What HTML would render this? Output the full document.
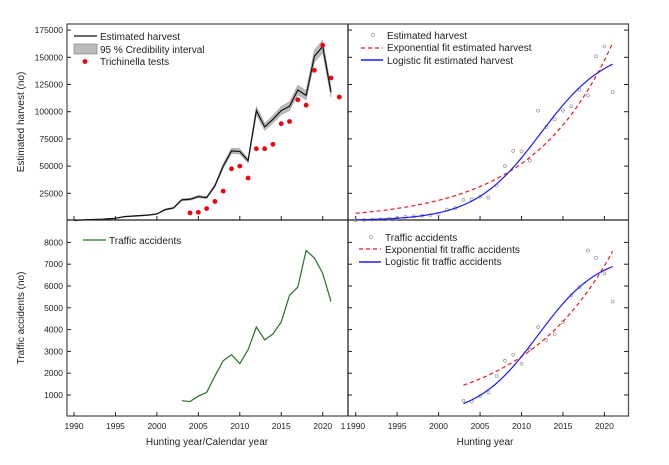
<!DOCTYPE html>
<html><head><meta charset="utf-8"><style>
body{margin:0;background:#fff}
svg{display:block;font-family:"Liberation Sans",Arial,sans-serif}
</style></head><body>
<svg id="c" width="669" height="465" viewBox="0 0 669 465"></svg>
<script>
const years = [1990,1991,1992,1993,1994,1995,1996,1997,1998,1999,2000,2001,2002,2003,2004,2005,2006,2007,2008,2009,2010,2011,2012,2013,2014,2015,2016,2017,2018,2019,2020,2021];
const harvest = [0,500,800,1000,1500,2000,3500,4000,4500,5000,6000,10000,11500,19000,19500,22000,21000,32000,50000,64000,63500,55000,101000,86000,93000,101000,105000,120000,115000,151000,160000,118000];
const trichYears = [2004,2005,2006,2007,2008,2009,2010,2011,2012,2013,2014,2015,2016,2017,2018,2019,2020,2021,2022];
const trich = [7000,7500,11000,17500,27000,47500,50000,39000,66000,66000,70000,89000,91000,111000,106000,138000,161000,131000,113500];
const trafficYears = [2003,2004,2005,2006,2007,2008,2009,2010,2011,2012,2013,2014,2015,2016,2017,2018,2019,2020,2021];
const traffic = [740,700,950,1120,1870,2570,2850,2440,3080,4120,3530,3800,4350,5570,5950,7630,7290,6580,5290];
const harvestExpFit = [6600,0.1035];      // a, r  (a*exp(r*(t-1990)))
const harvestLogFit = [160000,0.25,2012.3]; // K, r, t0
const trafficExpFit = [1450,0.092];       // a, r  (t-2003)
const trafficLogFit = [7500,0.27,2012];
const xTicks = [1990,1995,2000,2005,2010,2015,2020];
const yTicksH = [25000,50000,75000,100000,125000,150000,175000];
const yTicksT = [1000,2000,3000,4000,5000,6000,7000,8000];

const NS="http://www.w3.org/2000/svg", svg=document.getElementById('c');
function el(t,a,p){const e=document.createElementNS(NS,t);for(const k in a)e.setAttribute(k,a[k]);(p||svg).appendChild(e);return e;}
function txt(x,y,s,a,p){const e=el('text',Object.assign({x:x,y:y,'font-size':9,fill:'#222'},a||{}),p);e.textContent=s;return e;}
const yr=8.29;
const xL=t=>74+(t-1990)*yr, xR=t=>355.7+(t-1990)*yr;
const yH=v=>220.5-v/25000*27.2, yT=v=>416.8-v/1000*21.8;

el('rect',{x:67,y:24,width:561.5,height:392,fill:'none',stroke:'#555','stroke-width':1.3,});
el('line',{x1:348,y1:24,x2:348,y2:416,stroke:'#222','stroke-width':1.3,});
el('line',{x1:67,y1:220,x2:628.5,y2:220,stroke:'#222','stroke-width':1.3,});

const gt=el('g',{stroke:'#222','stroke-width':1});
yTicksH.forEach(v=>{el('line',{x1:67,y1:yH(v),x2:71,y2:yH(v)},gt);el('line',{x1:348,y1:yH(v),x2:352,y2:yH(v)},gt);el('line',{x1:624,y1:yH(v),x2:628.5,y2:yH(v)},gt);
 txt(63,yH(v)+3,v,{'text-anchor':'end','font-size':8.5,});});
yTicksT.forEach(v=>{el('line',{x1:67,y1:yT(v),x2:71,y2:yT(v)},gt);el('line',{x1:348,y1:yT(v),x2:352,y2:yT(v)},gt);el('line',{x1:624,y1:yT(v),x2:628.5,y2:yT(v)},gt);
 txt(63,yT(v)+3,v,{'text-anchor':'end','font-size':8.5,});});
xTicks.concat([2025]).forEach(t=>{
 [xL(t),xR(t)].forEach((x,i)=>{ if(i==0&&t==2025)return; if(x>629)return;
  el('line',{x1:x,y1:416,x2:x,y2:412},gt); el('line',{x1:x,y1:220,x2:x,y2:216},gt);
  if(t<2025) txt(x,429,t,{'text-anchor':'middle','font-size':8.5,});});
});
txt(343,429,'1',{'text-anchor':'middle','font-size':8.5,});
txt(207,445,'Hunting year/Calendar year',{'text-anchor':'middle','font-size':10,});
txt(485,445,'Hunting year',{'text-anchor':'middle','font-size':10,});
txt(0,0,'Estimated harvest (no)',{'text-anchor':'middle','font-size':10,transform:'translate(24,122) rotate(-90)',});
txt(0,0,'Traffic accidents (no)',{'text-anchor':'middle','font-size':10,transform:'translate(24,318) rotate(-90)',});

let up=years.map((t,i)=>xL(t)+','+yH(harvest[i]*1.035+300)).join(' ');
let lo=years.map((t,i)=>xL(t)+','+yH(Math.max(0,harvest[i]*0.965-300))).reverse().join(' ');
el('polygon',{points:up+' '+lo,fill:'#bbb',stroke:'#999','stroke-width':0.5,});
el('polyline',{points:years.map((t,i)=>xL(t)+','+yH(harvest[i])).join(' '),fill:'none',stroke:'#111','stroke-width':1.2,});
trich.forEach((v,i)=>{const c=el('circle',{cx:xL(trichYears[i]),cy:yH(v),r:2.4,fill:'#f00111'});

});
el('line',{x1:74,y1:36,x2:97,y2:36,stroke:'#111','stroke-width':1.3,});
txt(100,40,'Estimated harvest',{'font-size':10,});
el('rect',{x:74,y:44,width:23,height:10,fill:'#bbb',stroke:'#777','stroke-width':0.6,});
txt(100,53,'95 % Credibility interval',{'font-size':10,});
el('circle',{cx:85,cy:61.5,r:2.4,fill:'#f00111',});
txt(100,65,'Trichinella tests',{'font-size':10,});

function curve(t0,t1,f,xf,yf){const p=[];for(let t=t0;t<=t1+1e-6;t+=0.25)p.push(xf(t)+','+yf(f(t)));return p.join(' ');}
years.forEach((t,i)=>{const c=el('circle',{cx:xR(t),cy:yH(harvest[i]),r:1.5,fill:'none',stroke:'#999','stroke-width':0.7});

});
el('polyline',{points:curve(1990,2021,t=>harvestExpFit[0]*Math.exp(harvestExpFit[1]*(t-1990)),xR,yH),fill:'none',stroke:'#f01818','stroke-width':1.2,'stroke-dasharray':'4,3',});
el('polyline',{points:curve(1990,2021,t=>harvestLogFit[0]/(1+Math.exp(-harvestLogFit[1]*(t-harvestLogFit[2]))),xR,yH),fill:'none',stroke:'#1a1aff','stroke-width':1.2,});
el('circle',{cx:373,cy:35,r:1.5,fill:'none',stroke:'#999','stroke-width':0.7,});
txt(387,39,'Estimated harvest',{'font-size':10,});
el('line',{x1:361,y1:48,x2:383,y2:48,stroke:'#f01818','stroke-width':1.2,'stroke-dasharray':'4,3',});
txt(387,51,'Exponential fit estimated harvest',{'font-size':10,});
el('line',{x1:361,y1:60,x2:383,y2:60,stroke:'#1a1aff','stroke-width':1.4,});
txt(387,64,'Logistic fit estimated harvest',{'font-size':10,});

el('polyline',{points:trafficYears.map((t,i)=>xL(t)+','+yT(traffic[i])).join(' '),fill:'none',stroke:'#2a6e2a','stroke-width':1.2,});
el('line',{x1:83,y1:240,x2:106,y2:240,stroke:'#2a6e2a','stroke-width':1.2,});
txt(109,244,'Traffic accidents',{'font-size':10,});

trafficYears.forEach((t,i)=>{const c=el('circle',{cx:xR(t),cy:yT(traffic[i]),r:1.5,fill:'none',stroke:'#999','stroke-width':0.7});

});
el('polyline',{points:curve(2003,2021,t=>trafficExpFit[0]*Math.exp(trafficExpFit[1]*(t-2003)),xR,yT),fill:'none',stroke:'#f01818','stroke-width':1.2,'stroke-dasharray':'4,3',});
el('polyline',{points:curve(2003,2021,t=>trafficLogFit[0]/(1+Math.exp(-trafficLogFit[1]*(t-trafficLogFit[2]))),xR,yT),fill:'none',stroke:'#1a1aff','stroke-width':1.2,});
el('circle',{cx:371,cy:237,r:1.5,fill:'none',stroke:'#999','stroke-width':0.7,});
txt(385,241,'Traffic accidents',{'font-size':10,});
el('line',{x1:359,y1:249,x2:381,y2:249,stroke:'#f01818','stroke-width':1.2,'stroke-dasharray':'4,3',});
txt(385,253,'Exponential fit traffic accidents',{'font-size':10,});
el('line',{x1:359,y1:262,x2:381,y2:262,stroke:'#1a1aff','stroke-width':1.4,});
txt(385,265,'Logistic fit traffic accidents',{'font-size':10,});
</script>
</body></html>
